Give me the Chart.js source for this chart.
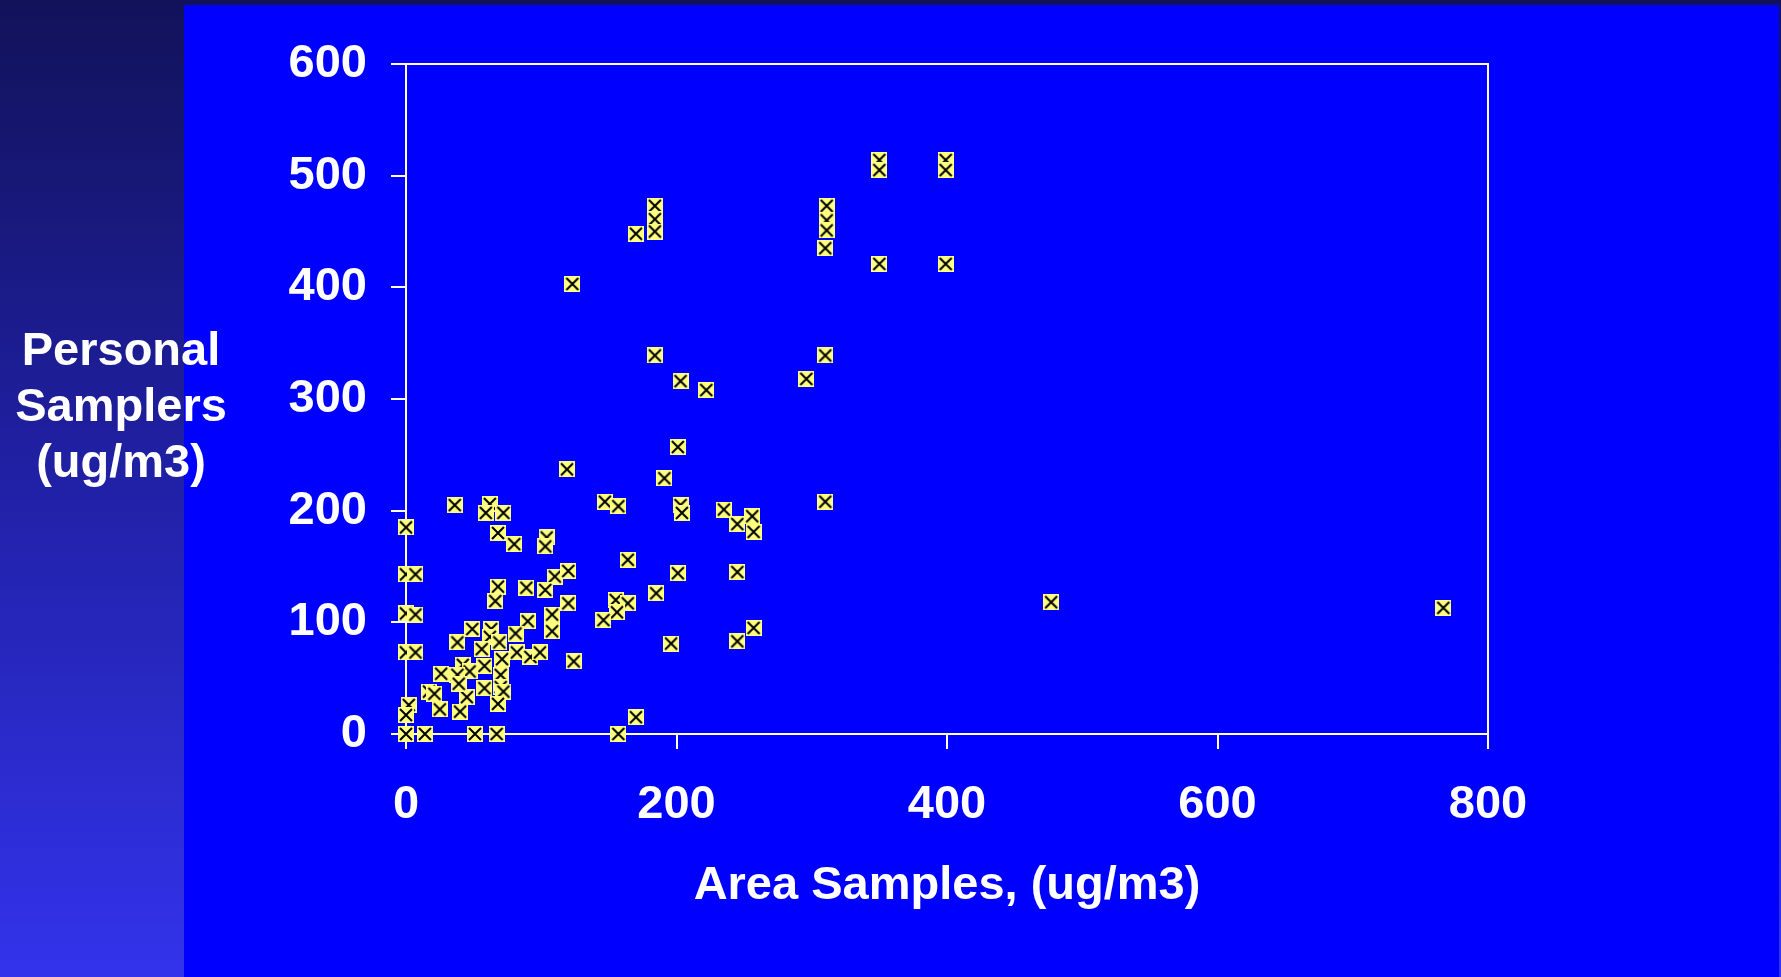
<!DOCTYPE html>
<html>
<head>
<meta charset="utf-8">
<script src="https://cdn.jsdelivr.net/npm/chart.js@4.4.1/dist/chart.umd.min.js"></script>
<style>
  html, body { margin: 0; padding: 0; }
  body {
    width: 1781px; height: 977px; overflow: hidden; position: relative;
    background: linear-gradient(to bottom, #12125a 0%, #1f1fa0 45%, #3333ec 100%);
  }
  #panel { position: absolute; left: 184px; top: 5px; width: 1595px; height: 972px; background: #0000ff; }
  #chart { position: absolute; left: 0; top: 0; }
</style>
</head>
<body>
<div id="panel"></div>
<canvas id="chart" width="1781" height="977"></canvas>
<script>
// Area vs personal samplers, ug/m3
const areaX = [
  350, 350, 399, 399, 350, 399, 311, 311, 311, 310, 184, 184, 184, 170, 123, 184,
  310, 296, 203, 222, 201, 191, 119, 310, 147, 157, 203, 204, 235, 245, 256, 257,
  164, 201, 245, 185, 155, 164, 156, 146, 257, 245, 196, 124, 170, 157, 477, 767,
  36, 62, 59, 72, 0, 68, 80, 104, 103, 0, 7, 68, 66, 89, 110, 103,
  120, 120, 0, 7, 108, 108, 90, 49, 63, 62, 38, 81, 69, 56, 82, 92,
  99, 0, 7, 71, 58, 42, 47, 26, 38, 58, 70, 70, 72, 17, 21, 45,
  68, 2, 25, 40, 0, 0, 14, 51, 67, 39
];
const personalY = [
  514, 505, 514, 505, 421, 421, 473, 460, 451, 435, 473, 461, 450, 448, 403, 339,
  339, 318, 316, 308, 257, 229, 237, 208, 208, 204, 205, 198, 201, 188, 195, 181,
  156, 144, 145, 126, 120, 117, 109, 102, 95, 83, 81, 65, 15, 0, 118, 113,
  205, 206, 198, 198, 185, 180, 170, 176, 168, 143, 143, 132, 119, 131, 141, 129,
  146, 117, 108, 107, 107, 92, 101, 94, 94, 87, 82, 90, 82, 76, 73, 69,
  73, 73, 73, 67, 61, 62, 56, 54, 53, 41, 53, 42, 38, 38, 36, 33,
  27, 26, 22, 20, 17, 0, 0, 0, 0, 45
];
const xTicks = [0, 200, 400, 600, 800];
const yTicks = [0, 100, 200, 300, 400, 500, 600];
const xTitle = 'Area Samples, (ug/m3)';
const yTitleLines = ['Personal', 'Samplers', '(ug/m3)'];

const FONT = '"Liberation Sans", Arial, sans-serif';

// yellow box with a black cross
const makeMarker = () => {
  const c = document.createElement('canvas');
  c.width = 16; c.height = 16;
  const g = c.getContext('2d');
  g.fillStyle = '#ffff80';
  g.fillRect(0, 0, 16, 16);
  g.strokeStyle = '#000';
  g.lineWidth = 2;
  g.beginPath();
  g.moveTo(2, 2); g.lineTo(14, 14);
  g.moveTo(14, 2); g.lineTo(2, 14);
  g.stroke();
  return c;
};

const frame = {
  id: 'frame',
  beforeDatasetsDraw: (chart) => {
    const {ctx, chartArea: a} = chart;
    ctx.save();
    ctx.strokeStyle = '#ffffff';
    ctx.lineWidth = 2;
    ctx.strokeRect(a.left, a.top, a.right - a.left, a.bottom - a.top);
    ctx.restore();
  }
};

const sideTitle = {
  id: 'sideTitle',
  afterDraw: (chart) => {
    const {ctx, chartArea} = chart;
    const mid = (chartArea.top + chartArea.bottom) / 2;
    ctx.save();
    ctx.font = `bold 47px ${FONT}`;
    ctx.fillStyle = '#ffffff';
    ctx.textAlign = 'center';
    ctx.textBaseline = 'alphabetic';
    yTitleLines.forEach((t, i) => ctx.fillText(t, 121, mid - 34 + i * 56));
    ctx.restore();
  }
};

new Chart(document.getElementById('chart'), {
  type: 'scatter',
  data: {
    datasets: [{
      data: areaX.map((x, i) => ({x: x, y: personalY[i]})),
      pointStyle: makeMarker(),
      pointRadius: 8,
      clip: false
    }]
  },
  options: {
    responsive: false,
    animation: false,
    devicePixelRatio: 1,
    layout: { padding: { left: 0, top: 64, right: 293, bottom: 0 } },
    plugins: {
      legend: { display: false },
      tooltip: { enabled: false }
    },
    scales: {
      x: {
        type: 'linear',
        min: 0, max: 800,
        afterFit: (scale) => { scale.height = 243; },
        afterBuildTicks: (scale) => { scale.ticks = xTicks.map(v => ({value: v})); },
        grid: { drawOnChartArea: false, drawTicks: true, tickLength: 15, color: '#ffffff', lineWidth: 2 },
        border: { display: true, color: '#ffffff', width: 2 },
        ticks: { color: '#ffffff', padding: 28, maxRotation: 0, font: { family: FONT, size: 47, weight: 'bold' } },
        title: {
          display: true, text: xTitle, color: '#ffffff',
          padding: { top: 0, bottom: 63 },
          font: { family: FONT, size: 47, weight: 'bold' }
        }
      },
      y: {
        type: 'linear',
        min: 0, max: 600,
        afterFit: (scale) => { scale.width = 406; },
        afterBuildTicks: (scale) => { scale.ticks = yTicks.map(v => ({value: v})); },
        grid: { drawOnChartArea: false, drawTicks: true, tickLength: 15, color: '#ffffff', lineWidth: 2 },
        border: { display: true, color: '#ffffff', width: 2 },
        ticks: { color: '#ffffff', padding: 24, font: { family: FONT, size: 47, weight: 'bold' } }
      }
    }
  },
  plugins: [frame, sideTitle]
});
</script>
</body>
</html>
